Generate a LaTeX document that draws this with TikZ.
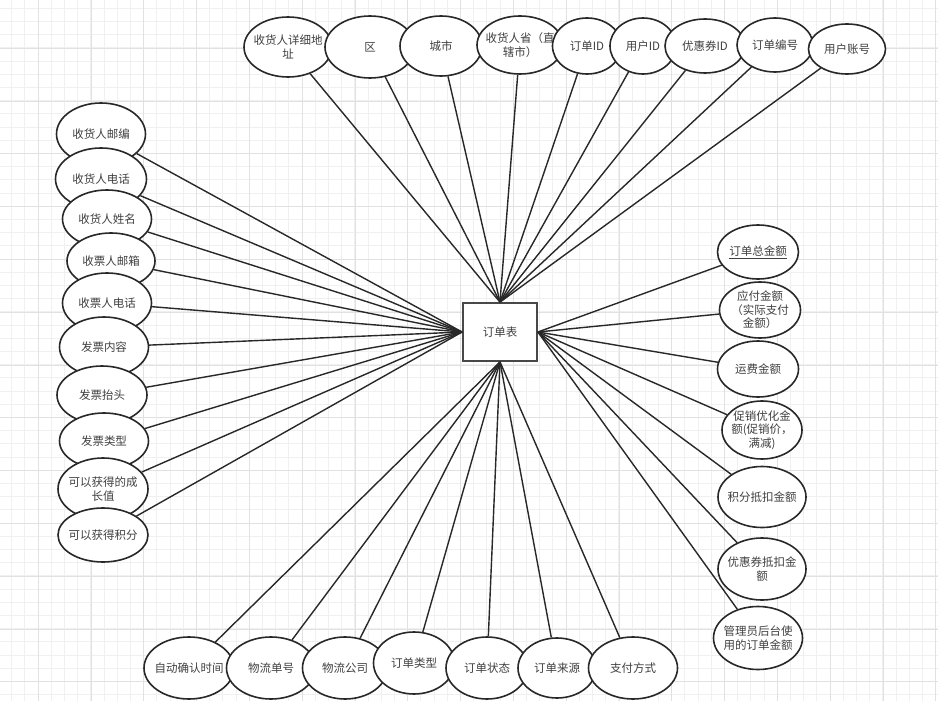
\documentclass[tikz,border=0pt]{standalone}
\usepackage{fontspec}
\setmainfont{Noto Sans CJK SC}
\usetikzlibrary{shapes.geometric}
\definecolor{gridmin}{RGB}{240,240,240}
\definecolor{gridmaj}{RGB}{225,225,225}
\definecolor{ink}{RGB}{40,40,40}
\definecolor{txt}{RGB}{64,64,64}

\begin{document}
\begin{tikzpicture}[x=1pt,y=-1pt,
    attr/.style={ellipse,draw=ink,fill=white,line width=1.6pt,inner xsep=-22pt,inner ysep=-10pt,
      align=center,text=txt,font=\fontsize{11.5}{13.5}\selectfont},
    entity/.style={rectangle,draw=ink!85,fill=white,line width=1.8pt,minimum width=74pt,
      minimum height=58pt,text=txt,font=\fontsize{11.5}{13.5}\selectfont},
    link/.style={draw=ink,line width=1.4pt}]
  \useasboundingbox (0,0) rectangle (938,701);
  % grid
  \foreach \k in {0,...,70} \draw[gridmin,line width=1pt] (11.7+13.2*\k,0) -- ++(0,701);
  \foreach \k in {0,...,53} \draw[gridmin,line width=1pt] (0,8.3+13.2*\k) -- ++(938,0);
  \foreach \k in {0,...,17} \draw[gridmaj,line width=1pt] (38.3+52.8*\k,0) -- ++(0,701);
  \foreach \k in {0,...,12} \draw[gridmaj,line width=1pt] (0,48.3+52.8*\k) -- ++(938,0);

  % top
  \node[attr,minimum width=88pt,minimum height=60pt] (addr) at (288,47) {收货人详细地\\址};
  \node[attr,minimum width=90pt,minimum height=62pt] (dist) at (370,47) {区};
  \node[attr,minimum width=82pt,minimum height=60pt] (city) at (441,46) {城市};
  \node[attr,minimum width=86pt,minimum height=58pt] (prov) at (520,45) {收货人省（直\\辖市）};
  \node[attr,minimum width=69pt,minimum height=56pt] (oid) at (587,46) {订单ID};
  \node[attr,minimum width=66pt,minimum height=56pt] (uid) at (643,46) {用户ID};
  \node[attr,minimum width=80pt,minimum height=54pt] (cid) at (705,46) {优惠券ID};
  \node[attr,minimum width=76pt,minimum height=54pt] (ono) at (775,45) {订单编号};
  \node[attr,minimum width=77pt,minimum height=50pt] (uacc) at (847,49) {用户账号};

  % left
  \node[attr,minimum width=89pt,minimum height=62pt] (rzip) at (101,134) {收货人邮编};
  \node[attr,minimum width=91pt,minimum height=62pt] (rtel) at (101,179) {收货人电话};
  \node[attr,minimum width=89pt,minimum height=58pt] (rname) at (107,219) {收货人姓名};
  \node[attr,minimum width=88pt,minimum height=56pt] (imail) at (111,261) {收票人邮箱};
  \node[attr,minimum width=89pt,minimum height=60pt] (itel) at (107,303) {收票人电话};
  \node[attr,minimum width=89pt,minimum height=60pt] (icont) at (104,347) {发票内容};
  \node[attr,minimum width=90pt,minimum height=58pt] (ihead) at (102,395) {发票抬头};
  \node[attr,minimum width=89pt,minimum height=56pt] (itype) at (104,441) {发票类型};
  \node[attr,minimum width=90pt,minimum height=62pt] (grow) at (103,489) {可以获得的成\\长值};
  \node[attr,minimum width=90pt,minimum height=54pt] (pts) at (103,535) {可以获得积分};

  % right
  \node[attr,minimum width=81pt,minimum height=54pt] (total) at (758,252) {\underline{订单总金额}};
  \node[attr,minimum width=81pt,minimum height=56pt] (pay) at (760,310) {应付金额\\（实际支付\\金额）};
  \node[attr,minimum width=81pt,minimum height=56pt] (ship) at (758,369) {运费金额};
  \node[attr,minimum width=80pt,minimum height=58pt] (promo) at (762,430) {促销优化金\\额(促销价，\\满减)};
  \node[attr,minimum width=88pt,minimum height=61pt] (ptsded) at (762,497) {积分抵扣金额};
  \node[attr,minimum width=88pt,minimum height=62pt] (cpnded) at (762,569) {优惠券抵扣金\\额};
  \node[attr,minimum width=89pt,minimum height=63pt] (admin) at (758,638) {管理员后台使\\用的订单金额};

  % bottom
  \node[attr,minimum width=90pt,minimum height=62pt] (autoc) at (189,668) {自动确认时间};
  \node[attr,minimum width=89pt,minimum height=62pt] (trkno) at (271,668) {物流单号};
  \node[attr,minimum width=85pt,minimum height=62pt] (carr) at (345,668) {物流公司};
  \node[attr,minimum width=81pt,minimum height=62pt] (otype) at (414,663) {订单类型};
  \node[attr,minimum width=82pt,minimum height=62pt] (ostat) at (487,668) {订单状态};
  \node[attr,minimum width=78pt,minimum height=60pt] (osrc) at (557,668) {订单来源};
  \node[attr,minimum width=89pt,minimum height=62pt] (pmeth) at (633,668) {支付方式};

  \node[entity] (tbl) at (500,332) {订单表};

  % connectors
  \foreach \n in {addr,dist,city,prov,oid,uid,cid,ono,uacc} \draw[link] (\n) -- (tbl.north);
  \foreach \n in {rzip,rtel,rname,imail,itel,icont,ihead,itype,grow,pts} \draw[link] (\n) -- (tbl.west);
  \foreach \n in {total,pay,ship,promo,ptsded,cpnded,admin} \draw[link] (\n) -- (tbl.east);
  \foreach \n in {autoc,trkno,carr,otype,ostat,osrc,pmeth} \draw[link] (\n) -- (tbl.south);
\end{tikzpicture}
\end{document}
